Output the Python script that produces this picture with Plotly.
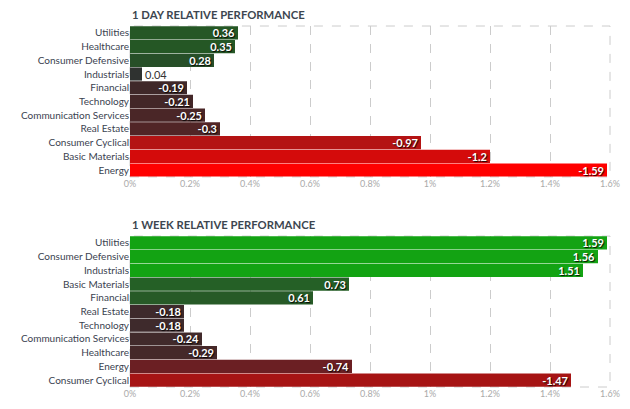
import plotly.graph_objects as go

# ---- data ----
day_sectors = ["Utilities", "Healthcare", "Consumer Defensive", "Industrials", "Financial",
               "Technology", "Communication Services", "Real Estate", "Consumer Cyclical",
               "Basic Materials", "Energy"]
day_values = [0.36, 0.35, 0.28, 0.04, -0.19, -0.21, -0.25, -0.3, -0.97, -1.2, -1.59]

week_sectors = ["Utilities", "Consumer Defensive", "Industrials", "Basic Materials", "Financial",
                "Real Estate", "Technology", "Communication Services", "Healthcare", "Energy",
                "Consumer Cyclical"]
week_values = [1.59, 1.56, 1.51, 0.73, 0.61, -0.18, -0.18, -0.24, -0.29, -0.74, -1.47]

tick_vals = [0, 0.2, 0.4, 0.6, 0.8, 1.0, 1.2, 1.4, 1.6]
tick_text = ["0%", "0.2%", "0.4%", "0.6%", "0.8%", "1%", "1.2%", "1.4%", "1.6%"]

titles = ["1 DAY RELATIVE PERFORMANCE", "1 WEEK RELATIVE PERFORMANCE"]

# ---- styles ----
day_colors = ["#255725", "#255725", "#274f28", "#2f3230", "#3f2829", "#432728",
              "#4a2627", "#512526", "#b41313", "#d40b0b", "#ff0000"]
week_colors = ["#13a313", "#13a313", "#13a313", "#256026", "#275a27", "#3e2a2c",
               "#3e2a2c", "#412a2b", "#452829", "#6b1f23", "#a61414"]

FONT = "Lato"
fig = go.Figure()

def add_panel(sectors, values, colors, xa, ya):
    fig.add_trace(go.Bar(
        y=sectors, x=[abs(v) for v in values], orientation="h",
        marker=dict(color=colors, line=dict(width=0)),
        text=[f"{v:g}" for v in values],
        textposition="auto", constraintext="none",
        insidetextanchor="end",
        insidetextfont=dict(family=FONT, size=11, color="white", weight="bold",
                            shadow="1px 1px 1px rgba(0,0,0,0.9)"),
        outsidetextfont=dict(family=FONT, size=11, color="#333333"),
        cliponaxis=False, hoverinfo="skip",
        xaxis=xa, yaxis=ya, showlegend=False,
    ))

add_panel(day_sectors, day_values, day_colors, "x", "y")
add_panel(week_sectors, week_values, week_colors, "x2", "y2")

xcommon = dict(range=[0, 1.6], tickvals=tick_vals, ticktext=tick_text,
               showgrid=True, gridcolor="#cccccc", griddash="dash", gridwidth=1,
               zeroline=False, showline=False, ticks="",
               tickfont=dict(family=FONT, size=9, color="#aaaaaa"), fixedrange=True)
ycommon = dict(autorange="reversed", showgrid=False, zeroline=False, ticks="",
               tickfont=dict(family=FONT, size=10, color="#3a4250"), fixedrange=True)

fig.update_layout(
    width=630, height=409,
    margin=dict(l=130, r=20, t=26, b=22, autoexpand=False),
    paper_bgcolor="white", plot_bgcolor="white",
    bargap=0.04,
    xaxis=dict(domain=[0, 1], anchor="y", **xcommon),
    yaxis=dict(domain=[0.582, 1], anchor="x", **ycommon),
    xaxis2=dict(domain=[0, 1], anchor="y2", **xcommon),
    yaxis2=dict(domain=[0, 0.418], anchor="x2", **ycommon),
)

for xr, yr in [("x", "y"), ("x2", "y2")]:
    fig.add_shape(type="rect", xref=f"{xr} domain", yref=f"{yr} domain",
                  x0=0, x1=1, y0=0, y1=1, layer="below",
                  line=dict(color="#cccccc", width=1, dash="dash"))

for title, yd in zip(titles, [1.0, 0.418]):
    fig.add_annotation(text=title, xref="paper", yref="paper", x=0, y=yd,
                       xanchor="left", yanchor="bottom", yshift=3, showarrow=False,
                       font=dict(family=FONT, size=11.3, color="#3d4650", weight="bold"))

fig.write_html("out.html", config={"displayModeBar": False},
               post_script="document.body.style.margin='0';")
